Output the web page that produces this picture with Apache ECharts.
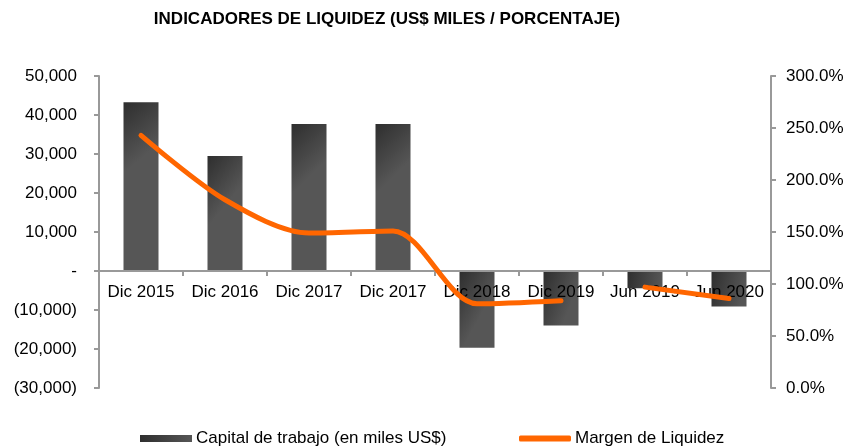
<!DOCTYPE html>
<html>
<head>
<meta charset="utf-8">
<script src="https://cdn.jsdelivr.net/npm/echarts@6/dist/echarts.min.js"></script>
<style>
  html, body { margin: 0; padding: 0; background: #fff; }
  #chart { width: 853px; height: 448px; }
</style>
</head>
<body>
<div id="chart"></div>
<script>
const categories = ['Dic 2015', 'Dic 2016', 'Dic 2017', 'Dic 2017', 'Dic 2018', 'Dic 2019', 'Jun 2019', 'Jun 2020'];
// Capital de trabajo (US$ miles)
const capital = [43300, 29500, 37700, 37700, -19700, -14000, -4400, -9100];
// Margen de liquidez (%), two segments as in the original
const margenA = [243, 181, 149, 151, 81, 84, '-', '-'];
const margenB = ['-', '-', '-', '-', '-', '-', 97, 86];

const font = 'Liberation Sans, Arial, sans-serif';

function fmtMiles(v) {
  if (v === 0) return '-';
  const s = Math.abs(v).toLocaleString('en-US');
  return v < 0 ? '(' + s + ')' : s;
}

const barColor = new echarts.graphic.LinearGradient(0, 0, 1, 0.25, [
  { offset: 0, color: '#2e2e2e' },
  { offset: 1, color: '#565656' }
]);

const axisGray = { color: '#999', width: 2 };

const option = {
  animation: false,
  title: {
    text: 'INDICADORES DE LIQUIDEZ (US$ MILES / PORCENTAJE)',
    left: 382,
    textAlign: 'center',
    top: 6,
    textStyle: { fontFamily: font, fontSize: 17, fontWeight: 'bold', color: '#000' }
  },
  legend: [
    {
      left: 135,
      top: 425,
      itemWidth: 52,
      itemHeight: 7,
      textStyle: { fontFamily: font, fontSize: 17, color: '#000', padding: [0, 0, 0, -1] },
      data: [{ name: 'Capital de trabajo (en miles US$)', icon: 'rect' }]
    },
    {
      left: 514,
      top: 425,
      itemWidth: 52,
      itemHeight: 6,
      textStyle: { fontFamily: font, fontSize: 17, color: '#000', padding: [0, 0, 0, -1] },
      data: [{ name: 'Margen de Liquidez', icon: 'roundRect' }]
    }
  ],
  grid: { left: 99, right: 82, top: 76, bottom: 60 },
  xAxis: {
    type: 'category',
    data: categories,
    z: 3,
    axisLine: { onZero: true, onZeroAxisIndex: 0, lineStyle: axisGray },
    axisTick: { show: true, length: 5, lineStyle: axisGray },
    axisLabel: { color: '#000', fontFamily: font, fontSize: 17, margin: -104, interval: 0 },
    splitLine: { show: false }
  },
  yAxis: [
    {
      type: 'value',
      min: -30000,
      max: 50000,
      interval: 10000,
      axisLine: { show: true, lineStyle: axisGray },
      axisTick: { show: true, length: 5, lineStyle: axisGray },
      axisLabel: { color: '#000', fontFamily: font, fontSize: 17, margin: 22, formatter: fmtMiles },
      splitLine: { show: false }
    },
    {
      type: 'value',
      min: 0,
      max: 300,
      interval: 50,
      position: 'right',
      axisLine: { show: true, lineStyle: axisGray },
      axisTick: { show: true, length: 5, lineStyle: axisGray },
      axisLabel: { color: '#000', fontFamily: font, fontSize: 17, margin: 15, formatter: v => v.toFixed(1) + '%' },
      splitLine: { show: false }
    }
  ],
  series: [
    {
      name: 'Capital de trabajo (en miles US$)',
      type: 'bar',
      yAxisIndex: 0,
      z: 1,
      barWidth: 35,
      itemStyle: { color: barColor },
      data: capital
    },
    {
      name: 'Margen de Liquidez',
      type: 'line',
      yAxisIndex: 1,
      z: 5,
      smooth: 0.3,
      showSymbol: false,
      symbol: 'none',
      lineStyle: { color: '#ff6600', width: 5, cap: 'round' },
      itemStyle: { color: '#ff6600' },
      data: margenA
    },
    {
      name: 'Margen de Liquidez',
      type: 'line',
      yAxisIndex: 1,
      z: 5,
      smooth: 0.3,
      showSymbol: false,
      symbol: 'none',
      lineStyle: { color: '#ff6600', width: 5, cap: 'round' },
      itemStyle: { color: '#ff6600' },
      data: margenB
    }
  ]
};

const chart = echarts.init(document.getElementById('chart'));
chart.setOption(option);
</script>
</body>
</html>
